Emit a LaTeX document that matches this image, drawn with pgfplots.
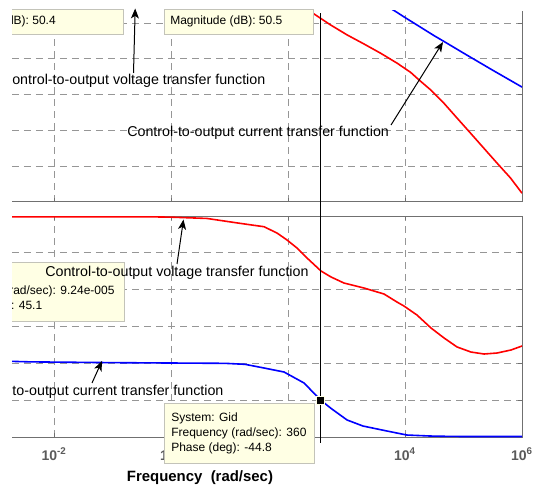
\documentclass[border=0pt]{standalone}
\usepackage{pgfplots}
\pgfplotsset{compat=1.18}
\usepackage{fontspec}
\setmainfont{Liberation Sans}
\usetikzlibrary{arrows.meta}
\definecolor{spinec}{RGB}{112,112,112}
\definecolor{gridc}{RGB}{150,150,150}
\definecolor{tipfill}{RGB}{255,255,228}
\definecolor{tipdraw}{RGB}{195,195,185}
\definecolor{mred}{RGB}{255,0,0}
\definecolor{mblue}{RGB}{0,0,255}
\definecolor{ticklab}{RGB}{90,90,90}
\newcommand{\annfont}{\fontsize{10.7}{12}\selectfont}
\newcommand{\tipfont}{\fontsize{9}{11}\selectfont}
\begin{document}
\begin{tikzpicture}
% ---------- top panel: magnitude ----------
\begin{axis}[scale only axis, width=382.5pt, height=143.25pt,
  at={(9pt,212.25pt)}, anchor=south west,
  xmode=log, xmin=0.001914, xmax=1e6,
  xtick={1e-2,1,1e2,1e4,1e6}, xminorticks=false, yminorticks=false,
  grid=major, major grid style={color=gridc, line width=0.75pt, dash pattern=on 5.5pt off 3.5pt},
  axis line style={draw=none},
  tick align=inside, major tick length=3pt, tick style={color=spinec, line width=0.75pt},
  ytick pos=right, yticklabels={}, xtick pos=bottom, xticklabels={},
  clip mode=individual,
  ymin=0, ymax=106.85, ytick={0,20,40,60,80,100}]
\draw[color=spinec, line width=0.75pt] (rel axis cs:0,0) -- (rel axis cs:1,0) -- (rel axis cs:1,1);
\addplot[color=mred, line width=1.2pt] coordinates {
(100,114.4) (278,105.2) (537,99) (1033,93.4) (1991,88.4) (3846,83.2) (7379,77.6)
(12500,72.5) (17340,68.3) (27480,62.7) (46450,55.2) (78340,46.8) (132700,38.4)
(223900,30) (378400,21.6) (641200,13.3) (1000000,4.9)};
\addplot[color=mblue, line width=1.2pt] coordinates {
(3162,113.3) (6745,106.8) (10000,103.2) (31623,93.0) (46450,89.8) (100000,83.3)
(316228,73.7) (1000000,64.3)};
\end{axis}
% ---------- bottom panel: phase ----------
\begin{axis}[scale only axis, width=382.5pt, height=165.75pt,
  at={(9pt,36pt)}, anchor=south west,
  xmode=log, xmin=0.001914, xmax=1e6,
  xtick={1e-2,1,1e2,1e4,1e6}, xminorticks=false, yminorticks=false,
  grid=major, major grid style={color=gridc, line width=0.75pt, dash pattern=on 5.5pt off 3.5pt},
  axis line style={draw=none},
  tick align=inside, major tick length=3pt, tick style={color=spinec, line width=0.75pt},
  ytick pos=right, yticklabels={}, xtick pos=both,
  clip mode=individual,
  ymin=-90, ymax=180, ytick={-90,-45,0,45,90,135,180},
  xticklabels={{10\textsuperscript{-2}},{10\textsuperscript{0}},{10\textsuperscript{2}},{10\textsuperscript{4}},{10\textsuperscript{6}}},
  xticklabel style={font=\fontsize{10.5}{12}\selectfont\bfseries, text=ticklab, anchor=base, yshift=-17.25pt},
  xlabel={\textbf{Frequency~~(rad/sec)}},
  xlabel style={at={(axis description cs:0.3686,0)}, anchor=center, yshift=-30.75pt, font=\fontsize{11.2}{13}\selectfont},
]
\draw[color=spinec, line width=0.75pt] (rel axis cs:0,1) -- (rel axis cs:1,1) -- (rel axis cs:1,0) -- (rel axis cs:0,0);
\addplot[color=mred, line width=1.2pt] coordinates {
(0.001914,179.1) (0.4375,179) (1.0,178.6) (4.121,177) (13.96,171.4) (38.9,166.9)
(64.86,159.2) (96.16,150.7) (142.6,140.9) (211.3,128.7) (366.4,112.8) (543.3,105.5)
(905.7,98.1) (1991,92.0) (4375,84.7) (7295,74.9) (9616,70.0) (16032,59.0) (27797,43.2)
(46452,31.0) (77446,20.0) (134276,13.8) (223872,11.4) (374111,12.6) (648634,16.3)
(1000000,21.2)};
\addplot[color=mblue, line width=1.2pt] coordinates {
(0.001914,2.4) (0.00389,1.8) (0.1194,0.8) (8.375,0) (18.41,-1.2) (38.9,-5.7)
(85.51,-10.6) (187.9,-24.0) (360,-44.8) (543,-55.0) (1021,-69.2) (1914,-76.6)
(4920,-82.7) (10814,-87.6) (26915,-88.8) (63096,-89.3) (190546,-89.4) (1000000,-89.4)};
\draw[color=black, line width=0.75pt] (axis cs:360,-97.3) -- (axis cs:360,428);
\addplot[only marks, mark=square*, mark size=3pt,
  mark options={fill=black, draw=tipfill, line width=0.75pt}] coordinates {(360,-44.8)};
\end{axis}
% ---------- data tips and annotations (pixel coordinates) ----------
\begin{scope}[x=0.75pt, y=-0.75pt, shift={(0pt,363.75pt)}]
  \filldraw[fill=tipfill, draw=tipdraw, line width=0.75pt] (-60,10) rectangle (123,35);
  \node[anchor=base east, inner sep=0, font=\tipfont] at (56,24.5) {Magnitude (dB): 50.4};
  \filldraw[fill=tipfill, draw=tipdraw, line width=0.75pt] (164,10) rectangle (313,35);
  \node[anchor=base west, inner sep=0, font=\tipfont] at (170,24.5) {Magnitude (dB): 50.5};
  \filldraw[fill=tipfill, draw=tipdraw, line width=0.75pt] (-60,263) rectangle (124,322);
  \node[anchor=base west, inner sep=0, font=\tipfont] at (-55,295) {Frequency (rad/sec): 9.24e-005};
  \node[anchor=base west, inner sep=0, font=\tipfont] at (-54.5,310) {Phase (deg): 45.1};
  \filldraw[fill=tipfill, draw=tipdraw, line width=0.75pt] (164,403) rectangle (314,463);
  \node[anchor=base west, inner sep=0, font=\tipfont] at (171,421) {System: Gid};
  \node[anchor=base west, inner sep=0, font=\tipfont] at (171,436.5) {Frequency (rad/sec): 360};
  \node[anchor=base west, inner sep=0, font=\tipfont] at (171,451.8) {Phase (deg): -44.8};
  \node[anchor=base west, inner sep=0, font=\annfont] at (1.75,84.5) {Control-to-output voltage transfer function};
  \draw[line width=0.75pt, -{Stealth[length=7.5pt, width=6pt, inset=2pt]}] (133.5,73) -- (135.2,8.5);
  \node[anchor=base west, inner sep=0, font=\annfont] at (127,136.3) {Control-to-output current transfer function};
  \draw[line width=0.75pt, -{Stealth[length=7.5pt, width=6pt, inset=2pt]}] (391,125) -- (443,42);
  \node[anchor=base west, inner sep=0, font=\annfont] at (45,276.5) {Control-to-output voltage transfer function};
  \draw[line width=0.75pt, -{Stealth[length=7.5pt, width=6pt, inset=2pt]}] (177,264) -- (183.5,219.5);
  \node[anchor=base west, inner sep=0, font=\annfont] at (-38.5,395.5) {Control-to-output current transfer function};
  \draw[line width=0.75pt, -{Stealth[length=7.5pt, width=6pt, inset=2pt]}] (92,383) -- (102,361);
  \fill[white] (-120,-20) rectangle (12,500);
\end{scope}
\pgfresetboundingbox
\useasboundingbox (0,0) rectangle (400.5pt,363.75pt);
\end{tikzpicture}
\end{document}
